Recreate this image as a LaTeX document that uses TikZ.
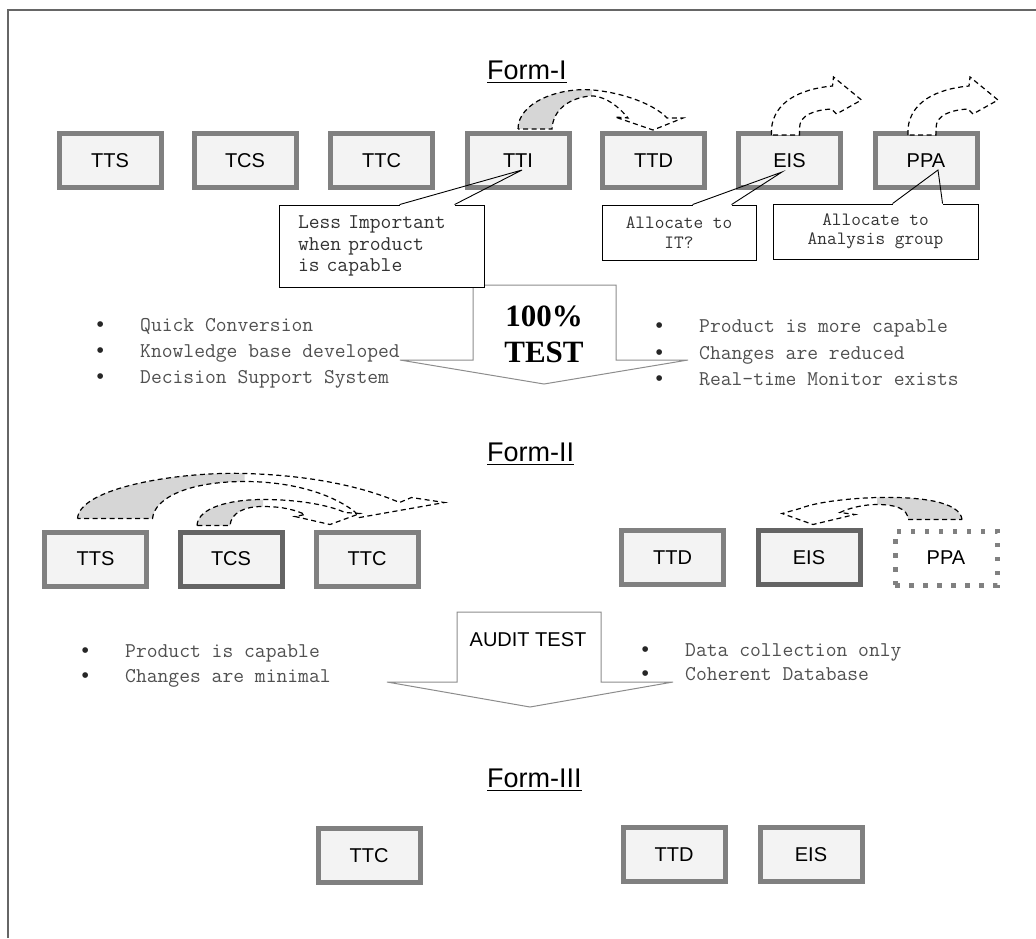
\documentclass[tikz,border=0pt]{standalone}
\usepackage{fontspec}
\setmainfont{Liberation Sans}
\newfontfamily\serifb{Liberation Serif}
\usetikzlibrary{calc}
\definecolor{boxgray}{HTML}{808080}
\definecolor{boxdark}{HTML}{646464}
\definecolor{boxfill}{HTML}{F3F3F3}
\definecolor{bandgray}{HTML}{D6D6D6}
\definecolor{txtgray}{HTML}{505050}
\definecolor{linegray}{HTML}{8C8C8C}
\tikzset{
  frm/.style={draw=boxgray,line width=5pt,fill=boxfill,minimum width=102pt,minimum height=54pt,inner sep=0pt,font=\fontsize{20}{24}\selectfont},
  frmd/.style={frm,draw=boxdark},
  frmdot/.style={frm,fill=white,dash pattern=on 4.5pt off 9.5pt},
  ttl/.style={anchor=base west,inner sep=0pt,font=\fontsize{27}{30}\selectfont},
  itm/.style={anchor=base west,inner sep=0pt,text=txtgray,font=\fontsize{21}{24}\ttfamily},
  note/.style={draw,line width=0.9pt,fill=white,inner sep=0pt,text=black!80},
  dashline/.style={line width=1.2pt,dash pattern=on 5pt off 3.5pt},
  bandfill/.style={fill=bandgray},
  blockarr/.style={draw=linegray,line width=1pt,fill=white}
}
% curved block arrow sitting on a box: [extra], anchor, outline, shaded part
\newcommand{\bentarr}[4][]{%
  \begin{scope}[shift={(#2)}]
    \begin{scope}\clip #4; \fill[bandfill] #3; \end{scope}
    \draw[dashline,#1] #3;
  \end{scope}}
\newcommand{\bul}[1]{\makebox[43.5pt][l]{\textcolor{black!85}{\rmfamily •}}#1}

\begin{document}
\begin{tikzpicture}[x=1pt,y=-1pt]
\useasboundingbox (0,0) rectangle (1036,938);
\draw[black!60,line width=1.5pt] (8,938) -- (8,10) -- (1036,10);

% Form-I
\node[ttl] (t1) at (487,79) {Form-I};
\foreach \nm/\lb/\xx in {tts1/TTS/110,tcs1/TCS/245,ttc1/TTC/381.5,tti1/TTI/518,ttd1/TTD/653.5,eis1/EIS/789.5,ppa1/PPA/926}
  \node[frm] (\nm) at (\xx,160.5) {\lb};
\bentarr{tti1.north}{(0,-2) .. controls (0,-29) and (42,-44) .. (75,-41) .. controls (107,-38) and (137,-26) .. (149,-13) -- (165,-13) -- (135,-1) -- (97,-14) -- (110,-13) .. controls (97,-29) and (82,-36) .. (72,-35) .. controls (52,-33) and (35,-22) .. (34,-2) -- cycle}{(-5,5) rectangle (74,-60)}
\foreach \bx in {eis1,ppa1}{
  \bentarr[fill=white]{\bx.north}{(-18,4) -- (-18,-3) .. controls (-15,-29) and (10,-42) .. (43,-45) -- (44,-54) -- (72,-31) -- (47,-17) -- (42,-22) .. controls (25,-21) and (10,-16) .. (10,-3) -- (10,4) -- cycle}{(0,0) rectangle (0,0)}
}

% 100% test
\draw[blockarr] (473,285) -- (616,285) -- (616,360) -- (688,360) -- (544,384) -- (400,360) -- (473,360) -- cycle;
\node[font=\fontsize{31}{36}\serifb\bfseries,align=center,inner sep=0pt] (t100) at (544,334.5) {100\%\\TEST};

% notes
\node[note,minimum width=205pt,minimum height=82pt,text width=167pt,align=left,font=\fontsize{21}{21.5}\ttfamily] (c1) at (381.5,246) {Less Important\\when product\\is capable};
\node[note,minimum width=154pt,minimum height=55pt,align=center,font=\fontsize{18.8}{19.5}\ttfamily] (c2) at (679,232.5) {Allocate to\\IT?};
\node[note,minimum width=205pt,minimum height=55pt,align=center,font=\fontsize{18.8}{19.5}\ttfamily] (c3) at (875.5,231.5) {Allocate to\\Analysis group};
\foreach \cn/\tg/\dx/\dy/\pa/\pb in {c1/tti1/4/9.5/121/176,c2/eis1/-7.5/11.5/91/130,c3/ppa1/12/9.5/120/170}{
  \draw[white,line width=2pt] ($(\cn.north west)+(\pa,0)$) -- ($(\cn.north west)+(\pb,0)$);
  \draw[line width=0.9pt] ($(\cn.north west)+(\pa,0)$) -- ($(\tg.center)+(\dx,\dy)$) -- ($(\cn.north west)+(\pb,0)$);
}

\foreach \txt [count=\i] in {Quick Conversion,Knowledge base developed,Decision Support System}
  \node[itm] (la\i) at (96.5,{305+26*\i}) {\bul{\txt}};
\foreach \txt [count=\i] in {Product is more capable,Changes are reduced,Real-time Monitor exists}
  \node[itm] (ra\i) at (655.5,{306+26.5*\i}) {\bul{\txt}};

% Form-II
\node[ttl] (t2) at (487,461) {Form-II};
\node[frm] (tts2) at (95.5,559) {TTS};
\node[frmd] (tcs2) at (231,559) {TCS};
\node[frm] (ttc2) at (367,559) {TTC};
\node[frm] (ttd2) at (672.5,557.5) {TTD};
\node[frmd] (eis2) at (809,557.5) {EIS};
\node[frmdot] (ppa2) at (946,558) {PPA};
\bentarr{tts2.north}{(-18,-11) .. controls (-16,-42) and (84,-58) .. (149,-56) .. controls (224,-54) and (274,-40) .. (304,-27) -- (316,-32) -- (349,-27) -- (264,-12) -- (259,-18) .. controls (234,-37) and (194,-48) .. (149,-48) .. controls (94,-48) and (59,-32) .. (57,-11) -- cycle}{(-25,0) rectangle (149,-65)}
\bentarr{tcs2.north}{(-34,-4) .. controls (-33,-22) and (-1,-30) .. (32,-30) .. controls (69,-30) and (99,-24) .. (114,-17) -- (129,-16) -- (99,-5) -- (64,-13) -- (74,-15) .. controls (59,-22) and (44,-23) .. (31,-23) .. controls (14,-23) and (0,-17) .. (-1,-4) -- cycle}{(-40,0) rectangle (32,-40)}
\bentarr{ppa2.north}{(16,-9) .. controls (14,-27) and (-26,-32) .. (-69,-31) .. controls (-101,-30) and (-131,-26) .. (-146,-20) -- (-164,-15) -- (-133,-4) -- (-91,-14) -- (-106,-16) .. controls (-96,-21) and (-81,-24) .. (-69,-24) .. controls (-51,-24) and (-38,-20) .. (-38,-9) -- cycle}{(-69,0) rectangle (25,-40)}

% audit test
\draw[blockarr] (457,612) -- (601,612) -- (601,682) -- (673,682) -- (530,707) -- (387,682) -- (457,682) -- cycle;
\node[font=\fontsize{20}{24}\selectfont,inner sep=0pt] (aud) at (528,640) {AUDIT TEST};
\foreach \txt [count=\i] in {Product is capable,Changes are minimal}
  \node[itm] (lb\i) at (81.5,{632+25*\i}) {\bul{\txt}};
\foreach \txt [count=\i] in {Data collection only,Coherent Database}
  \node[itm] (rb\i) at (641.5,{632+24*\i}) {\bul{\txt}};

% Form-III
\node[ttl] (t3) at (487,787) {Form-III};
\node[frm] (ttc3) at (369,855.5) {TTC};
\node[frm] (ttd3) at (674,854.5) {TTD};
\node[frm] (eis3) at (811,854.5) {EIS};

\foreach \tn in {t1,t2,t3}
  \draw[line width=1.5pt] ($(\tn.base west)+(0,3.5)$) -- ($(\tn.base east)+(0,3.5)$);
\end{tikzpicture}
\end{document}
